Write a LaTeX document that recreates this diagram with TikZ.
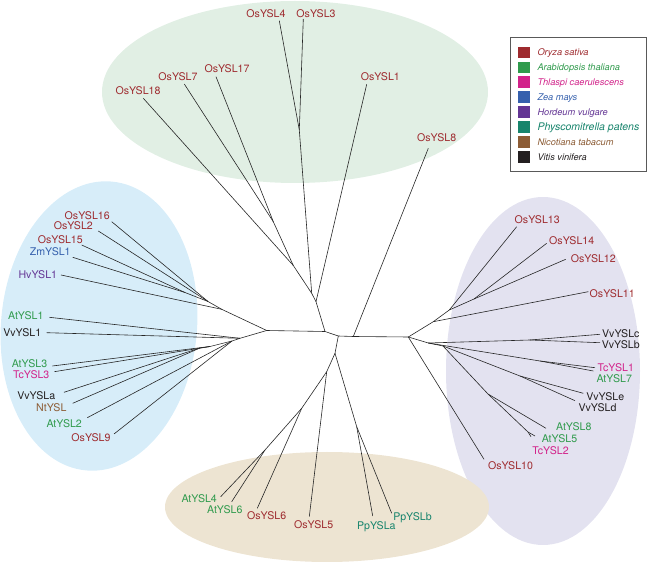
\documentclass[tikz,border=0pt]{standalone}
\usepackage{fontspec}
\setmainfont{TeX Gyre Heros}
\usetikzlibrary{positioning}

\definecolor{osred}{HTML}{9E2A2E}
\definecolor{atgreen}{HTML}{2F9A4C}
\definecolor{tcpink}{HTML}{D2228A}
\definecolor{zmblue}{HTML}{3560AD}
\definecolor{hvpurple}{HTML}{633594}
\definecolor{ppteal}{HTML}{17846C}
\definecolor{ntbrown}{HTML}{8C5C35}
\definecolor{vvblack}{HTML}{231F20}
\definecolor{bggreen}{HTML}{E1EFE4}
\definecolor{bgblue}{HTML}{D7EDF9}
\definecolor{bglilac}{HTML}{E3E2F0}
\definecolor{bgbeige}{HTML}{EDE4D2}

\begin{document}
\begin{tikzpicture}[x=1pt, y=-1pt,
    branch/.style={draw=black!85, line width=0.6pt, line join=round},
    leaf/.style={font=\fontsize{10.6}{12}\selectfont, inner sep=0pt, anchor=base},
    osl/.style={leaf, text=osred},
    atl/.style={leaf, text=atgreen},
    tcl/.style={leaf, text=tcpink},
    zml/.style={leaf, text=zmblue},
    hvl/.style={leaf, text=hvpurple},
    ppl/.style={leaf, text=ppteal},
    ntl/.style={leaf, text=ntbrown},
    vvl/.style={leaf, text=vvblack},
    key/.style={inner sep=0pt, anchor=base west}]
    \useasboundingbox (0,0) rectangle (649,569);

    % Clades
    \fill[bggreen] (295,92) ellipse [x radius=193, y radius=91];
    \fill[bgblue, rotate around={-5:(99,326)}] (99,326) ellipse [x radius=98, y radius=145];
    \fill[bglilac] (543,371) ellipse [x radius=97, y radius=174];
    \fill[bgbeige] (327,507) ellipse [x radius=162, y radius=55];

    % Inner branch points
    \coordinate (L) at (266.7,330.5);
    \coordinate (C1) at (325,331.5);
    \coordinate (C2) at (338.3,336);
    \coordinate (C3) at (353.3,336.5);
    \coordinate (R) at (408.3,337);
    \coordinate (T1) at (316,301.7);
    \coordinate (J4) at (311.7,293.3);
    \coordinate (J18) at (293.3,265.5);
    \coordinate (J717) at (273.3,221.7);
    \coordinate (J34) at (299.3,130);
    \coordinate (LU) at (221.7,309.3);
    \coordinate (N16) at (208,301.5);
    \coordinate (N15) at (185,292.5);
    \coordinate (LD) at (240,338.3);
    \coordinate (NL) at (232,341);
    \coordinate (N3) at (210,346.5);
    \coordinate (NVa) at (200,348);
    \coordinate (RU) at (433.3,321.7);
    \coordinate (N13) at (449.3,310);
    \coordinate (N1412) at (474,299);
    \coordinate (RL) at (428.3,343);
    \coordinate (RL2) at (443,346);
    \coordinate (NVbc) at (530,340);
    \coordinate (NT1) at (540,361);
    \coordinate (NVde) at (520,376);
    \coordinate (N85) at (488,394);
    \coordinate (N52) at (528,432);
    \coordinate (B1) at (335,353.3);
    \coordinate (B2) at (326.7,371.7);
    \coordinate (NB6) at (301.7,408.3);
    \coordinate (NA46) at (265,450);
    \coordinate (NPp) at (356.7,426.7);

    % Leaf tips
    \coordinate (tOs4) at (279.3,20.7);
    \coordinate (tOs3) at (303.3,19);
    \coordinate (tOs17) at (216,76.7);
    \coordinate (tOs7) at (184.3,84);
    \coordinate (tOs18) at (143.3,98.3);
    \coordinate (tOs1) at (366.7,84.3);
    \coordinate (tOs8) at (428.3,148.3);
    \coordinate (tOs16) at (111.7,221.7);
    \coordinate (tOs2) at (98.3,231);
    \coordinate (tOs15) at (81.7,245);
    \coordinate (tZm1) at (72.7,257.3);
    \coordinate (tHv1) at (61,275);
    \coordinate (tAt1) at (49.3,317.3);
    \coordinate (tVv1) at (46.7,332.7);
    \coordinate (tAt3) at (52.3,366);
    \coordinate (tTc3) at (54.3,371.7);
    \coordinate (tVva) at (64,392.3);
    \coordinate (tNt) at (72.7,403.3);
    \coordinate (tAt2) at (87.3,417.7);
    \coordinate (tOs9) at (114,434);
    \coordinate (tOs13) at (516.7,226.7);
    \coordinate (tOs14) at (546.7,243.3);
    \coordinate (tOs12) at (565.7,259.3);
    \coordinate (tOs11) at (588.3,291.7);
    \coordinate (tVvc) at (600,334.3);
    \coordinate (tVvb) at (600,342.7);
    \coordinate (tTc1) at (595,367.7);
    \coordinate (tAt7) at (593.3,371);
    \coordinate (tVve) at (583.3,393.3);
    \coordinate (tVvd) at (575,400.7);
    \coordinate (tAt8) at (546,428.3);
    \coordinate (tAt5) at (535,436);
    \coordinate (tTc2) at (531,436.7);
    \coordinate (tOs10) at (484,459.3);
    \coordinate (tAt4) at (220.7,496.7);
    \coordinate (tAt6) at (231.7,501.7);
    \coordinate (tOs6) at (257.3,508.3);
    \coordinate (tOs5) at (309.3,516.7);
    \coordinate (tPpa) at (372.7,516);
    \coordinate (tPpb) at (391.7,513.3);

    % Top clade
    \draw[branch] (tOs4) -- (J34) -- (J4) -- (T1) -- (C1);
    \draw[branch] (tOs3) -- (J34);
    \draw[branch] (tOs7) -- (J717) -- (J18) -- (J4);
    \draw[branch] (tOs17) -- (J717);
    \draw[branch] (tOs18) -- (J18);
    \draw[branch] (tOs1) -- (T1);
    % Backbone
    \draw[branch] (L) -- (C1) -- (C2) -- (C3) -- (R);
    \draw[branch] (tOs8) -- (C3);
    % Left clade
    \draw[branch] (tOs16) -- (N16) -- (LU) -- (L);
    \draw[branch] (tOs2) -- (N16);
    \draw[branch] (tOs15) -- (N15) -- (N16);
    \draw[branch] (tZm1) -- (N15);
    \draw[branch] (tHv1) -- (LU);
    \draw[branch] (tAt1) -- (LD) -- (L);
    \draw[branch] (tVv1) -- (LD);
    \draw[branch] (tAt3) -- (N3) -- (NL) -- (LD);
    \draw[branch] (tTc3) -- (N3);
    \draw[branch] (tVva) -- (NVa) -- (N3);
    \draw[branch] (tNt) -- (NVa);
    \draw[branch] (tAt2) -- (NL);
    \draw[branch] (tOs9) -- (NL);
    % Right clade
    \draw[branch] (tOs13) -- (N13) -- (RU) -- (R);
    \draw[branch] (tOs14) -- (N1412) -- (N13);
    \draw[branch] (tOs12) -- (N1412);
    \draw[branch] (tOs11) -- (RU);
    \draw[branch] (tVvc) -- (NVbc) -- (RL) -- (R);
    \draw[branch] (tVvb) -- (NVbc);
    \draw[branch] (tTc1) -- (NT1) -- (RL);
    \draw[branch] (tAt7) -- (NT1);
    \draw[branch] (tVve) -- (NVde) -- (RL2) -- (RL);
    \draw[branch] (tVvd) -- (NVde);
    \draw[branch] (tAt8) -- (N85) -- (RL2);
    \draw[branch] (tAt5) -- (N52) -- (N85);
    \draw[branch] (tTc2) -- (N52);
    \draw[branch] (tOs10) -- (R);
    % Bottom clade
    \draw[branch] (C2) -- (B1) -- (B2) -- (NB6) -- (NA46) -- (tAt4);
    \draw[branch] (NA46) -- (tAt6);
    \draw[branch] (NB6) -- (tOs6);
    \draw[branch] (B2) -- (tOs5);
    \draw[branch] (B1) -- (NPp) -- (tPpa);
    \draw[branch] (NPp) -- (tPpb);

    % Labels
    \node[osl] (lOs4) at (266,17.3) {OsYSL4};
    \node[osl] (lOs3) at (316,17.3) {OsYSL3};
    \node[osl] (lOs17) at (227,72.7) {OsYSL17};
    \node[osl] (lOs7) at (178,81) {OsYSL7};
    \node[osl] (lOs18) at (138,95) {OsYSL18};
    \node[osl] (lOs1) at (380.3,81) {OsYSL1};
    \node[osl] (lOs8) at (436.7,141.7) {OsYSL8};
    \node[osl] (lOs16) at (87.2,220) {OsYSL16};
    \node[osl] (lOs2) at (73.3,230) {OsYSL2};
    \node[osl] (lOs15) at (60.3,243.3) {OsYSL15};
    \node[zml] (lZm1) at (50.2,256) {ZmYSL1};
    \node[hvl] (lHv1) at (37.8,279) {HvYSL1};
    \node[atl] (lAt1) at (25.8,320) {AtYSL1};
    \node[vvl] (lVv1) at (22.3,336.7) {VvYSL1};
    \node[atl] (lAt3) at (29.5,367.3) {AtYSL3};
    \node[tcl] (lTc3) at (31.2,379) {TcYSL3};
    \node[vvl] (lVva) at (36.2,400) {VvYSLa};
    \node[ntl] (lNt) at (51.3,411.7) {NtYSL};
    \node[atl] (lAt2) at (64.2,427.3) {AtYSL2};
    \node[osl] (lOs9) at (91,442) {OsYSL9};
    \node[osl] (lOs13) at (537.2,223.3) {OsYSL13};
    \node[osl] (lOs14) at (571.7,245) {OsYSL14};
    \node[osl] (lOs12) at (593.3,262.7) {OsYSL12};
    \node[osl] (lOs11) at (612.2,297.3) {OsYSL11};
    \node[vvl] (lVvc) at (620.8,337.3) {VvYSLc};
    \node[vvl] (lVvb) at (620.8,348.3) {VvYSLb};
    \node[tcl] (lTc1) at (615.8,371.7) {TcYSL1};
    \node[atl] (lAt7) at (614.2,382.7) {AtYSL7};
    \node[vvl] (lVve) at (605.2,401) {VvYSLe};
    \node[vvl] (lVvd) at (597.5,411.7) {VvYSLd};
    \node[atl] (lAt8) at (573.8,430.7) {AtYSL8};
    \node[atl] (lAt5) at (559.5,442.3) {AtYSL5};
    \node[tcl] (lTc2) at (550.5,455) {TcYSL2};
    \node[osl] (lOs10) at (510.5,470) {OsYSL10};
    \node[atl] (lAt4) at (199.2,502.3) {AtYSL4};
    \node[atl] (lAt6) at (224.8,514) {AtYSL6};
    \node[osl] (lOs6) at (266.7,520) {OsYSL6};
    \node[osl] (lOs5) at (313.7,528.5) {OsYSL5};
    \node[ppl] (lPpa) at (376.3,529.3) {PpYSLa};
    \node[ppl] (lPpb) at (412.5,521) {PpYSLb};

    % Legend
    \draw[draw=black!65, line width=0.7pt, fill=white] (510.7,37) rectangle (646,171.5);
    \foreach \col/\name/\fs [count=\i from 0] in {osred/Oryza sativa/9.2, atgreen/Arabidopsis thaliana/9.2,
        tcpink/Thlaspi caerulescens/9.2, zmblue/Zea mays/9.2, hvpurple/Hordeum vulgare/9.2,
        ppteal/Physcomitrella patens/10.5, ntbrown/Nicotiana tabacum/9.2, vvblack/Vitis vinifera/9.2}
    {
        \fill[\col] (518.3,46.6+14.95*\i) rectangle ++(11.7,11.7);
        \node[key, text=\col, font=\fontsize{\fs}{11}\selectfont\itshape] (key\i) at (537.3,55.8+14.95*\i) {\name};
    }
\end{tikzpicture}
\end{document}
